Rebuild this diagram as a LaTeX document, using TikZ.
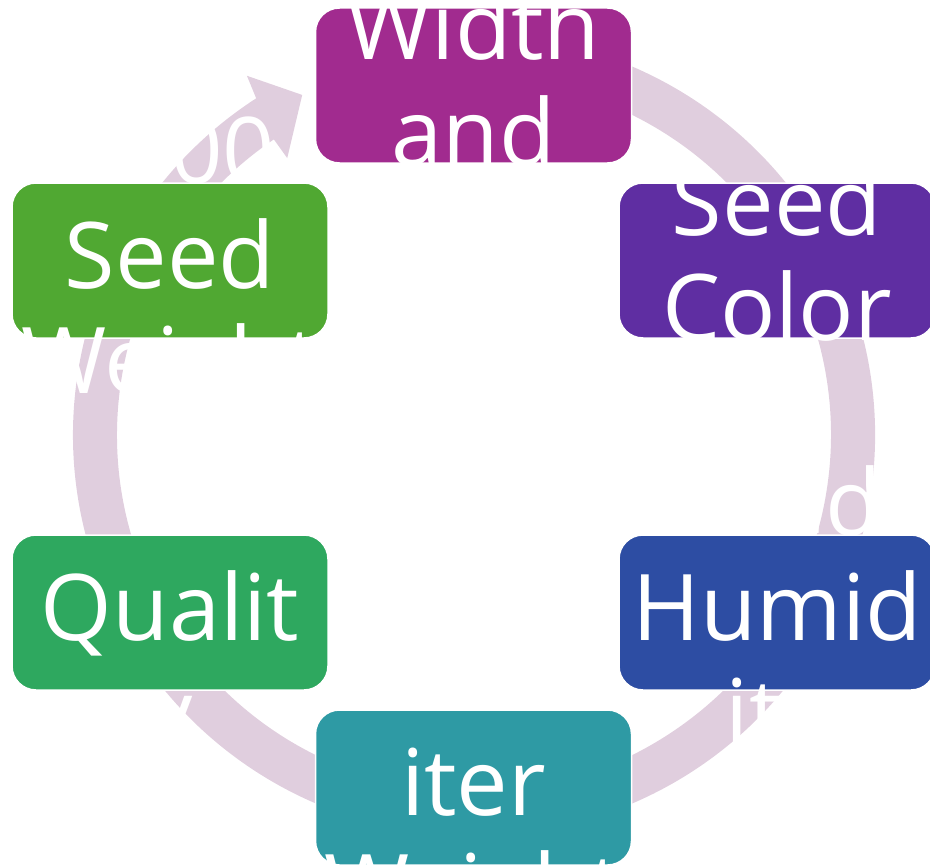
\documentclass[tikz,border=0pt]{standalone}
\usepackage{fontspec}
\setmainfont{Open Sans}
\usetikzlibrary{calc}
\definecolor{ringc}{HTML}{E0CEDE}
\definecolor{cw}{HTML}{A12B8F}
\definecolor{csc}{HTML}{5F2EA2}
\definecolor{chu}{HTML}{2D4DA3}
\definecolor{cit}{HTML}{2E9AA4}
\definecolor{cqu}{HTML}{2EA85F}
\definecolor{csw}{HTML}{50A832}
\begin{document}
\begin{tikzpicture}[x=1pt,y=-1pt,
  box/.style={rectangle, rounded corners=24pt, minimum width=316pt, minimum height=155pt, draw=white, line width=1.5pt, inner sep=0pt},
  lbl/.style={text=white, font=\fontsize{92}{100}\selectfont, anchor=base, inner sep=0pt}]
\useasboundingbox (0,0) rectangle (930,867);
\clip (0,0) rectangle (930,867);
\coordinate (c) at (474,435);
% ring arrow
\fill[ringc] ($(c)+(-110:401)$) arc[start angle=-110, end angle=237.1, radius=401]
  -- ($(c)+(237.7:425)$) -- ($(c)+(243.2:381)$) -- ($(c)+(236.0:334)$) -- ($(c)+(235.9:357)$)
  arc[start angle=235.9, end angle=-110, radius=357] -- cycle;
% boxes
\node[box, fill=cw]  (w)  at (473.5,85.5) {};
\node[box, fill=csc] (sc) at (777,260.5) {};
\node[box, fill=chu] (hu) at (777,612.5) {};
\node[box, fill=cit] (it) at (473.5,787.5) {};
\node[box, fill=cqu] (qu) at (170,612.5) {};
\node[box, fill=csw] (sw) at (170,260.5) {};
% labels
\node[lbl] (w1) at (473.5,60) {Width};
\node[lbl] (w2) at (473.5,165) {and};
\node[lbl] (sc1) at (777,235) {Seed};
\node[lbl] (sc2) at (777,340) {Color};
\node[lbl] (hu1) at (777,535) {Seed};
\node[lbl] (hu2) at (777,640) {Humid};
\node[lbl] (hu3) at (777,745) {ity};
\node[lbl] (it1) at (473.5,815) {iter};
\node[lbl] (it2) at (473.5,920) {Weight};
\node[lbl] (qu1) at (170,640) {Qualit};
\node[lbl] (qu2) at (170,745) {y};
\node[lbl] (sw1) at (170,183) {1000};
\node[lbl] (sw2) at (170,288) {Seed};
\node[lbl] (sw3) at (170,393) {Weight};
\end{tikzpicture}
\end{document}
